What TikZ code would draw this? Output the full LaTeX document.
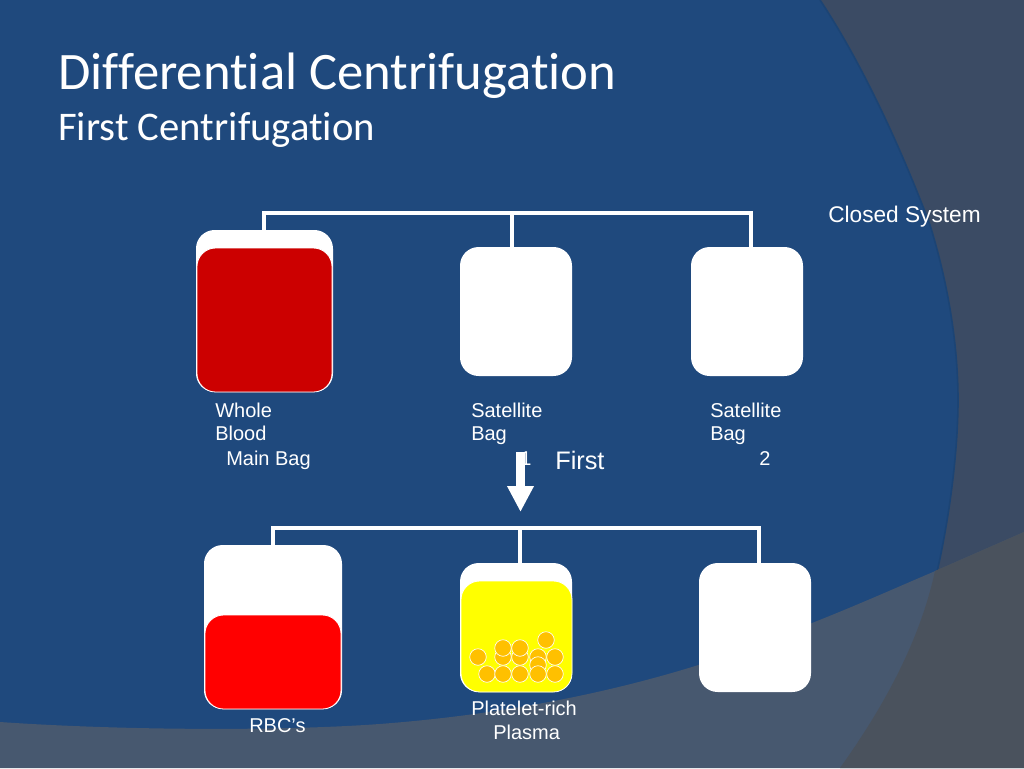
\documentclass[tikz,border=0pt]{standalone}
\usepackage{fontspec}
\setmainfont{Liberation Sans}
\newfontfamily\titlefont[Ligatures={NoCommon,NoRequired,NoContextual}]{Carlito}
\usetikzlibrary{arrows.meta}
\definecolor{slideblue}{HTML}{1F497D}
\definecolor{edgeblue}{HTML}{1C4474}
\definecolor{bandgray}{HTML}{47586F}
\definecolor{rightgray}{HTML}{3B4B64}
\definecolor{cornergray}{HTML}{4A525D}
\definecolor{bloodred}{HTML}{CC0000}
\definecolor{purered}{HTML}{FF0000}
\definecolor{plasmayellow}{HTML}{FFFF00}
\definecolor{platelet}{HTML}{FFC000}
\tikzset{
	bagbox/.style={fill=white, rounded corners=14pt},
	bagfill/.style={draw=white, line width=0.6pt, rounded corners=14pt},
	tube/.style={draw=white, line width=2.8pt},
	label/.style={text=white, font=\fontsize{15}{18}\selectfont, anchor=base west, inner sep=0pt},
	cell/.style={circle, fill=platelet, draw=white, line width=0.5pt, minimum size=12.4pt, inner sep=0pt}
}
\begin{document}
\begin{tikzpicture}[x=0.75pt,y=-0.75pt]
	\useasboundingbox (0,0) rectangle (1024,768);
	\fill[slideblue] (0,0) rectangle (1024,768);
	% background shapes
	\fill[rightgray] (820,0) .. controls (860,60) and (900,145) .. (930,225) .. controls (950,290) and (958,350) .. (958,400) .. controls (958,450) and (950,515) .. (937,572) -- (1024,572) -- (1024,0) -- cycle;
	\draw[edgeblue, line width=1.2pt] (820,0) .. controls (860,60) and (900,145) .. (930,225) .. controls (950,290) and (958,350) .. (958,400) .. controls (958,450) and (950,515) .. (937,572);
	\fill[bandgray] (0,722) .. controls (130,731) and (300,731) .. (392,723) .. controls (500,714) and (600,695) .. (692,667) .. controls (740,652) and (780,636) .. (812,623) .. controls (860,604) and (900,586) .. (933,572) -- (1024,532) -- (1024,768) -- (0,768) -- cycle;
	\fill[cornergray] (935,571) .. controls (920,640) and (885,705) .. (840,768) -- (1024,768) -- (1024,532) -- cycle;

	\node[text=white, anchor=base west, inner sep=0pt, font=\titlefont\fontsize{39.5}{44}\selectfont] (maintitle) at (58,89) {Differential Centrifugation};
	\node[text=white, anchor=base west, inner sep=0pt, font=\titlefont\fontsize{30.5}{36}\selectfont] (subtitle) at (58,140) {First Centrifugation};
	\node[label, font=\fontsize{17}{20}\selectfont] (closed) at (828,222) {Closed System};

	% top row
	\fill[bagbox] (196,230) rectangle (333,392);
	\filldraw[bagfill, fill=bloodred] (197,248) rectangle (332,392);
	\fill[bagbox] (460,247) rectangle (572,376);
	\fill[bagbox] (691,247) rectangle (803,376);
	\coordinate (topa) at (264,213);
	\coordinate (topb) at (512,213);
	\coordinate (topc) at (751,213);
	\coordinate (enda) at (264,230);
	\coordinate (endb) at (512,247);
	\coordinate (endc) at (751,247);
	\draw[tube] (enda) -- (topa) -- (topc) -- (endc);
	\draw[tube] (topb) -- (endb);
	\node[label] (wholea) at (215,417) {Whole};
	\node[label] (wholeb) at (215,440) {Blood};
	\node[label] (mainbag) at (226,465) {Main Bag};
	\node[label] (sata) at (471,417) {Satellite};
	\node[label] (satb) at (471,440) {Bag};
	\node[label] (one) at (520,465) {1};
	\node[label] (satc) at (710,417) {Satellite};
	\node[label] (satd) at (710,440) {Bag};
	\node[label] (two) at (759,465) {2};
	\node[label, font=\fontsize{19}{22}\selectfont] (first) at (555,469) {First};

	% arrow
	\coordinate (arrowtop) at (520.5,452);
	\coordinate (arrowend) at (520.5,512);
	\draw[white, line width=6.75pt, -{Triangle[length=19.5pt,width=18.75pt]}] (arrowtop) -- (arrowend);

	% bottom row
	\fill[bagbox] (204,545) rectangle (342,709);
	\filldraw[bagfill, fill=purered] (205,615) rectangle (341,709);
	\fill[bagbox] (460,563) rectangle (572,692);
	\filldraw[bagfill, fill=plasmayellow] (461,581) rectangle (572,692);
	\fill[bagbox] (699,563) rectangle (811,692);
	\coordinate (bota) at (273,528);
	\coordinate (botb) at (520,528);
	\coordinate (botc) at (759,528);
	\coordinate (bendA) at (273,545);
	\coordinate (bendB) at (520,563);
	\coordinate (bendC) at (759,563);
	\draw[tube] (bendA) -- (bota) -- (botc) -- (bendC);
	\draw[tube] (botb) -- (bendB);
	\foreach \cx/\cy [count=\i] in {503/657,520/657,538/657,538/665,478/657,555/657,546/640,503/648,520/648,487/674,503/674,520/674,538/674,555/674}
		\node[cell] (cell\i) at (\cx,\cy) {};
	\node[label] (rbc) at (249,732) {RBC’s};
	\node[label] (prpa) at (471,715) {Platelet-rich};
	\node[label] (prpb) at (493,739) {Plasma};
\end{tikzpicture}
\end{document}
